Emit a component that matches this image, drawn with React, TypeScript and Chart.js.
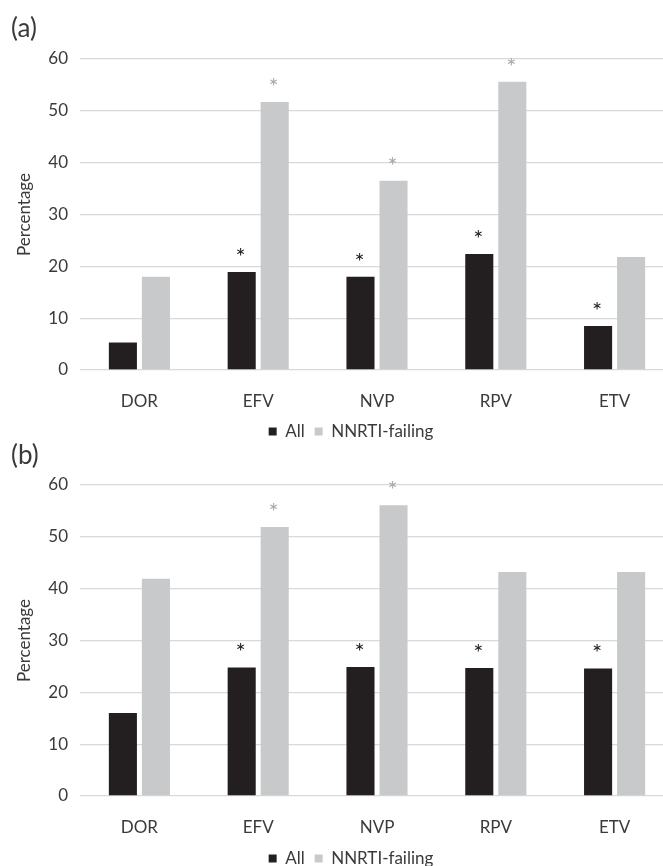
import React, { useEffect, useRef } from 'react';
import { Chart, registerables } from 'chart.js';

Chart.register(...registerables);

// ---- data ----
const categories = ['DOR', 'EFV', 'NVP', 'RPV', 'ETV'];
const seriesNames = ['All', 'NNRTI-failing'];
const yTicks = [0, 10, 20, 30, 40, 50, 60];

const allA = [5.3, 18.9, 18.0, 22.4, 8.5];
const nnrtiA = [18.0, 51.7, 36.5, 55.6, 21.8];
const starsAllA = [false, true, true, true, true];
const starsNnrtiA = [false, true, true, true, false];

const allB = [16.0, 24.8, 24.9, 24.7, 24.6];
const nnrtiB = [41.9, 51.9, 56.1, 43.2, 43.2];
const starsAllB = [false, true, true, true, true];
const starsNnrtiB = [false, true, true, false, false];

// ---- styles ----
const FONT = 'Lato';
const TEXT = '#3a3a3a';
const COLORS = ['#231f20', '#c8c9cb'];
const STAR_COLORS = ['#231f20', '#a7a9ac'];

const starPlugin = {
  id: 'stars',
  afterDatasetsDraw(chart: any, _args: any, opts: any) {
    const { ctx } = chart;
    const stars: boolean[][] = opts.stars || [];
    chart.data.datasets.forEach((_ds: any, di: number) => {
      const meta = chart.getDatasetMeta(di);
      meta.data.forEach((bar: any, i: number) => {
        if (!stars[di] || !stars[di][i]) return;
        ctx.save();
        ctx.font = `24px ${FONT}`;
        ctx.fillStyle = STAR_COLORS[di];
        ctx.textAlign = 'center';
        ctx.textBaseline = 'alphabetic';
        ctx.fillText('*', bar.x - 1, bar.y - 7);
        ctx.restore();
      });
    });
  },
};

type PanelProps = {
  all: number[];
  nnrti: number[];
  starsAll: boolean[];
  starsNnrti: boolean[];
  top: number;
  height: number;
  padTop: number;
  xAxisHeight: number;
};

function Panel({ all, nnrti, starsAll, starsNnrti, top, height, padTop, xAxisHeight }: PanelProps) {
  const ref = useRef<HTMLCanvasElement>(null);
  useEffect(() => {
    if (!ref.current) return;
    const chart = new Chart(ref.current, {
      type: 'bar',
      data: {
        labels: categories,
        datasets: [
          {
            label: seriesNames[0],
            data: all,
            backgroundColor: COLORS[0],
            barPercentage: 0.85,
            categoryPercentage: 0.556,
          },
          {
            label: seriesNames[1],
            data: nnrti,
            backgroundColor: COLORS[1],
            barPercentage: 0.85,
            categoryPercentage: 0.556,
          },
        ],
      },
      options: {
        responsive: false,
        animation: false,
        devicePixelRatio: 1,
        layout: { padding: { top: padTop, left: 0, right: 0, bottom: 0 } },
        scales: {
          x: {
            grid: { display: false },
            border: { display: false },
            ticks: { padding: 13, color: TEXT, font: { family: FONT, size: 17 } },
            afterFit: (s: any) => {
              s.height = xAxisHeight;
            },
          },
          y: {
            min: 0,
            max: 60,
            afterBuildTicks: (s: any) => {
              s.ticks = yTicks.map((v) => ({ value: v }));
            },
            ticks: { padding: 12, color: TEXT, font: { family: FONT, size: 17 } },
            grid: { color: '#d9d9d9', lineWidth: 1.3, drawTicks: false },
            border: { display: false },
            title: {
              display: true,
              text: 'Percentage',
              color: TEXT,
              font: { family: FONT, size: 17 },
              padding: { top: 14, bottom: 0 },
            },
            afterFit: (s: any) => {
              s.width = 80;
            },
          },
          yR: {
            position: 'right',
            display: true,
            grid: { display: false },
            border: { display: false },
            ticks: { display: false },
            afterFit: (s: any) => {
              s.width = 28;
            },
          },
        },
        plugins: {
          tooltip: { enabled: false },
          legend: {
            position: 'bottom',
            labels: {
              boxWidth: 8,
              boxHeight: 8,
              padding: 10,
              color: TEXT,
              font: { family: FONT, size: 17 },
            },
          },
          stars: { stars: [starsAll, starsNnrti] },
        } as any,
      },
      plugins: [starPlugin],
    } as any);
    return () => chart.destroy();
  }, []);
  return (
    <canvas
      ref={ref}
      width={702}
      height={height}
      style={{ position: 'absolute', left: 0, top, width: 702, height }}
    />
  );
}

export default function App() {
  const labelStyle: React.CSSProperties = {
    position: 'absolute',
    left: 11,
    fontFamily: FONT,
    fontSize: 26,
    lineHeight: '26px',
    color: TEXT,
  };
  return (
    <div style={{ position: 'relative', width: 663, height: 866, overflow: 'hidden', background: '#fff' }}>
      <style>{'body{margin:0;}'}</style>
      <Panel
        all={allA}
        nnrti={nnrtiA}
        starsAll={starsAllA}
        starsNnrti={starsNnrtiA}
        top={0}
        height={450}
        padTop={59}
        xAxisHeight={43}
      />
      <Panel
        all={allB}
        nnrti={nnrtiB}
        starsAll={starsAllB}
        starsNnrti={starsNnrtiB}
        top={450}
        height={427}
        padTop={35}
        xAxisHeight={44}
      />
      <div style={{ ...labelStyle, top: 14 }}>(a)</div>
      <div style={{ ...labelStyle, top: 441 }}>(b)</div>
    </div>
  );
}
